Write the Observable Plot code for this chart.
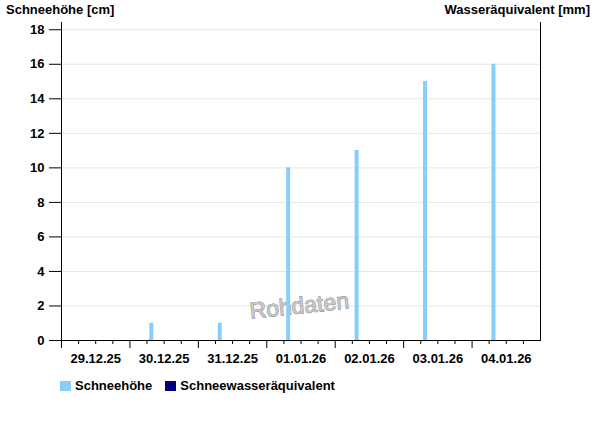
<!DOCTYPE html>
<html><head><meta charset="utf-8">
<script src="https://cdn.jsdelivr.net/npm/d3@7"></script>
<script src="https://cdn.jsdelivr.net/npm/@observablehq/plot@0.6"></script>
<style>
body{margin:0;background:#fff;font-family:"Liberation Sans",Arial,sans-serif;}
#wrap{position:relative;width:600px;height:426px;overflow:hidden;}
#wrap svg{position:absolute;left:0;top:0;}
.ttl{position:absolute;font-weight:bold;font-size:13px;line-height:13px;color:#000;white-space:nowrap;}
.leg{position:absolute;top:379px;left:60px;display:flex;align-items:center;font-weight:bold;font-size:13px;line-height:13px;color:#000;white-space:nowrap;}
.sw{display:inline-block;width:11px;height:10px;margin-right:4px;}
</style></head><body>
<div id="wrap">
  <div class="ttl" style="left:6px;top:3px;">Schneehöhe [cm]</div>
  <div class="ttl" style="right:10px;top:3px;">Wasseräquivalent [mm]</div>
  <div class="leg" id="legend"></div>
</div>
<script>
// Data
const dates = ["2025-12-29","2025-12-30","2025-12-31","2026-01-01","2026-01-02","2026-01-03","2026-01-04"];
const messzeit = "07:30";
const schneehoehe = [0, 1, 1, 10, 11, 15, 16];
const wasseraequivalent = []; // no values shown
const seriesNames = ["Schneehöhe", "Schneewasseräquivalent"];
const seriesColors = ["#87CEFA", "#000080"];
const yTicks = [0, 2, 4, 6, 8, 10, 12, 14, 16, 18];
const xStart = "2025-12-29", xEnd = "2026-01-05";

const parseDT = d3.utcParse("%Y-%m-%dT%H:%M");
const parseD = d3.utcParse("%Y-%m-%d");
const data = dates.map((d, i) => ({date: parseDT(d + "T" + messzeit), value: schneehoehe[i]})).filter(d => d.value > 0);
const x0 = parseD(xStart), x1 = parseD(xEnd);
const majorTicks = d3.utcDay.range(x0, x1);
const minorTicks = d3.utcHour.every(6).range(x0, x1).filter(d => d.getUTCHours() !== 0);
const labelTicks = majorTicks.map(d => d3.utcHour.offset(d, 12));

const chart = Plot.plot({
  width: 600, height: 426,
  marginTop: 22, marginBottom: 86, marginLeft: 61, marginRight: 60,
  style: {fontFamily: "'Liberation Sans', Arial, sans-serif", fontSize: "13px", fontWeight: "bold", color: "#000", background: "transparent", overflow: "visible"},
  x: {type: "utc", domain: [x0, x1]},
  y: {domain: [0, 18.42]},
  marks: [
    Plot.ruleY(yTicks.filter(d => d > 0), {stroke: "#e6e6e6", strokeOpacity: 1}),
    Plot.text(["Rohdaten"], {text: d => d, frameAnchor: "bottom", dy: -27, dx: -1, rotate: -6, fontSize: 23, fontWeight: "normal", fill: "#c8c8c8", stroke: "#7a7a7a", strokeWidth: 0.8}),
    Plot.ruleX(data, {x: "date", y1: 0, y2: "value", stroke: seriesColors[0], strokeWidth: 4}),
    Plot.axisY({ticks: yTicks, tickSize: 12, tickPadding: 5, tickFormat: d => d, label: null}),
    Plot.axisX({ticks: majorTicks, tickSize: 8, tickFormat: () => "", label: null}),
    Plot.axisX({ticks: minorTicks, tickSize: 4, tickFormat: () => "", label: null}),
    Plot.axisX({ticks: labelTicks, tickSize: 0, tickPadding: 13, tickFormat: d3.utcFormat("%d.%m.%y"), label: null}),
    Plot.frame({anchor: "left"}),
    Plot.frame({anchor: "right"}),
    Plot.frame({anchor: "bottom"})
  ]
});
const wrap = document.getElementById("wrap");
wrap.insertBefore(chart, wrap.firstChild);

const legend = document.getElementById("legend");
seriesNames.forEach((n, i) => {
  const item = document.createElement("span");
  item.style.display = "inline-flex";
  item.style.alignItems = "center";
  item.style.marginRight = i === 0 ? "13px" : "0";
  item.innerHTML = `<span class="sw" style="background:${seriesColors[i]}"></span>${n}`;
  legend.appendChild(item);
});
</script>
</body></html>
